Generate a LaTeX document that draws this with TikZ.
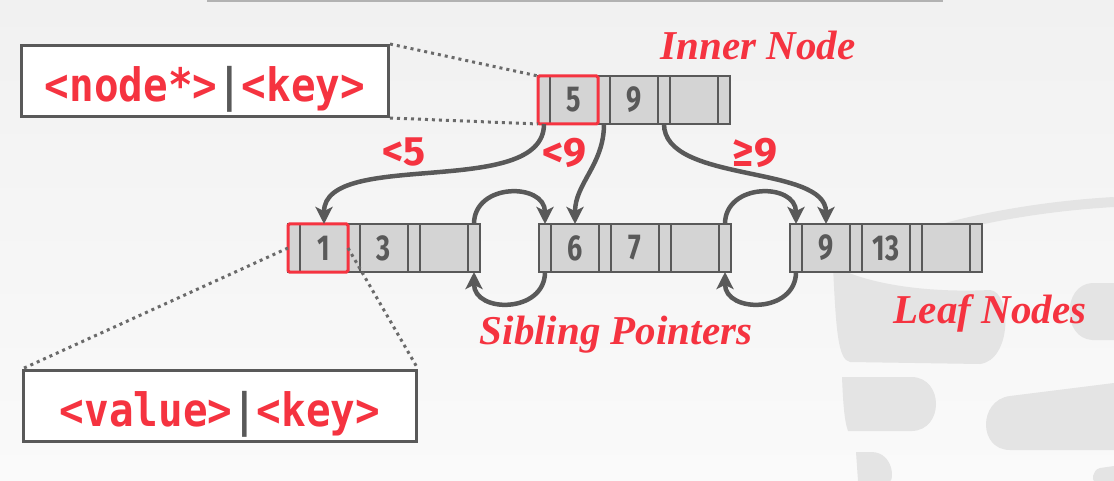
\documentclass[tikz,border=0pt]{standalone}
\usepackage{fontspec}
\usetikzlibrary{positioning,arrows.meta}
\newfontfamily\cellfont[FakeStretch=0.75]{Fira Sans}
\newfontfamily\labfont{Fira Sans}
\newfontfamily\codefont[FakeStretch=0.89]{DejaVu Sans Mono}
\newfontfamily\capfont{Liberation Serif}
\definecolor{hl}{RGB}{245,51,64}
\definecolor{edge}{RGB}{89,89,89}
\definecolor{cell}{RGB}{212,212,212}
\definecolor{bgtop}{RGB}{241,241,241}
\definecolor{bgbot}{RGB}{250,250,250}
\definecolor{wmark}{RGB}{228,228,228}
\tikzset{
  ptr/.style={draw=edge, fill=cell, line width=2pt, minimum width=12pt,
    minimum height=48pt, inner sep=0pt, outer sep=0pt},
  key/.style={ptr, minimum width=48pt, text=edge,
    font=\cellfont\bfseries\fontsize{36}{36}\selectfont},
  hlbox/.style={draw=hl, line width=3pt, rounded corners=1.5pt},
  codebox/.style={draw=edge, fill=white, line width=3pt, inner sep=0pt,
    text height=56pt, text depth=15pt, font=\codefont\bfseries\fontsize{46}{46}\selectfont},
  dotline/.style={draw=edge!90, line width=3pt, dash pattern=on 3pt off 4pt},
  link/.style={draw=edge, line width=4.5pt, -{Stealth[length=17pt,width=17pt,inset=4pt]}},
  cond/.style={text=hl, font=\labfont\bfseries\fontsize{41}{41}\selectfont},
  caption/.style={text=hl, anchor=base, font=\capfont\bfseries\itshape\fontsize{41}{41}\selectfont},
}
\begin{document}
\begin{tikzpicture}[x=1pt,y=-1pt]
\fill[top color=bgtop,bottom color=bgbot](0,0)rectangle(1114,481);
\useasboundingbox(0,0)rectangle(1114,481);
\draw[gray!60,line width=2pt](207,1)--(943,1);
% watermark
\draw[wmark,line width=10pt](838,272)..controls(900,232)and(1010,208)..(1114,202);
\fill[wmark](833,266)..controls(880,290)and(950,292)..(990,290)
  ..controls(1012,292)and(1012,360)..(980,364)--(850,362)..controls(838,360)and(836,330)..cycle;
\fill[wmark](1114,283)--(1092,283)..controls(1062,285)and(1062,338)..(1092,340)--(1114,340)--cycle;
\fill[wmark](842,377)--(912,377)..controls(944,378)and(944,430)..(912,431)--(848,431)..controls(844,420)and(843,400)..cycle;
\fill[wmark](1114,383)--(1010,396)..controls(978,400)and(978,450)..(1010,450)--(1114,450)--cycle;
\fill[wmark](856,452)--(872,452)..controls(894,453)and(894,481)..(890,481)--(858,481)--cycle;
\fill[wmark](1114,466)--(1100,468)..controls(1092,470)and(1092,481)..(1094,481)--(1114,481)--cycle;
% B+tree nodes
\foreach \n/\x/\y/\ka/\kb in {in/538/76/5/9,lfa/288/224/1/3,lfb/539/224/6/7,lfc/790/224/9/13}{
  \node[ptr,anchor=north west](\n-p0)at(\x,\y){};
  \node[key,right=0pt of \n-p0](\n-k1){\ka};
  \node[ptr,right=0pt of \n-k1](\n-p1){};
  \node[key,right=0pt of \n-p1](\n-k2){\kb};
  \node[ptr,right=0pt of \n-k2](\n-p2){};
  \node[key,right=0pt of \n-p2](\n-k3){};
  \node[ptr,right=0pt of \n-k3](\n-p3){};
}
\draw[hlbox](in-p0.north west)rectangle(in-k1.south east);
\draw[hlbox](lfa-p0.north west)rectangle(lfa-k1.south east);
% entry formats
\node[codebox,minimum width=367pt,anchor=north west](nodebox)at(20,44)
  {\textcolor{hl}{<node*>}\textcolor{edge}{|}\textcolor{hl}{<key>}};
\node[codebox,minimum width=393pt,anchor=north west](valbox)at(22,369)
  {\textcolor{hl}{<value>}\textcolor{edge}{|}\textcolor{hl}{<key>}};
\draw[dotline](nodebox.north east)--(in-p0.north west);
\draw[dotline](nodebox.south east)--(in-p0.south west);
\draw[dotline](lfa-p0.west)--(valbox.north west);
\draw[dotline](lfa-k1.east)--(valbox.north east);
% child pointers
\draw[link](in-p0.south)to[out=-90,in=90,looseness=0.8](lfa-k1.north);
\draw[link](in-p1.south)to[out=-90,in=90,looseness=1](lfb-k1.north);
\draw[link](in-p2.south)to[out=-90,in=90,looseness=0.8](lfc-k1.north);
\node[cond](lt5)at(404,152){<5};
\node[cond](lt9)at(564,153){<9};
\node[cond](ge9)at(755,153){≥9};
% sibling pointers
\draw[link](lfa-p3.north)to[out=90,in=90,looseness=1.5](lfb-p0.north);
\draw[link](lfb-p0.south)to[out=-90,in=-90,looseness=1.5](lfa-p3.south);
\draw[link](lfb-p3.north)to[out=90,in=90,looseness=1.5](lfc-p0.north);
\draw[link](lfc-p0.south)to[out=-90,in=-90,looseness=1.5](lfb-p3.south);
\node[caption](inner)at(758,60){Inner Node};
\node[caption](leaves)at(990,323){Leaf Nodes};
\node[caption](sibs)at(616,344){Sibling Pointers};
\end{tikzpicture}
\end{document}
